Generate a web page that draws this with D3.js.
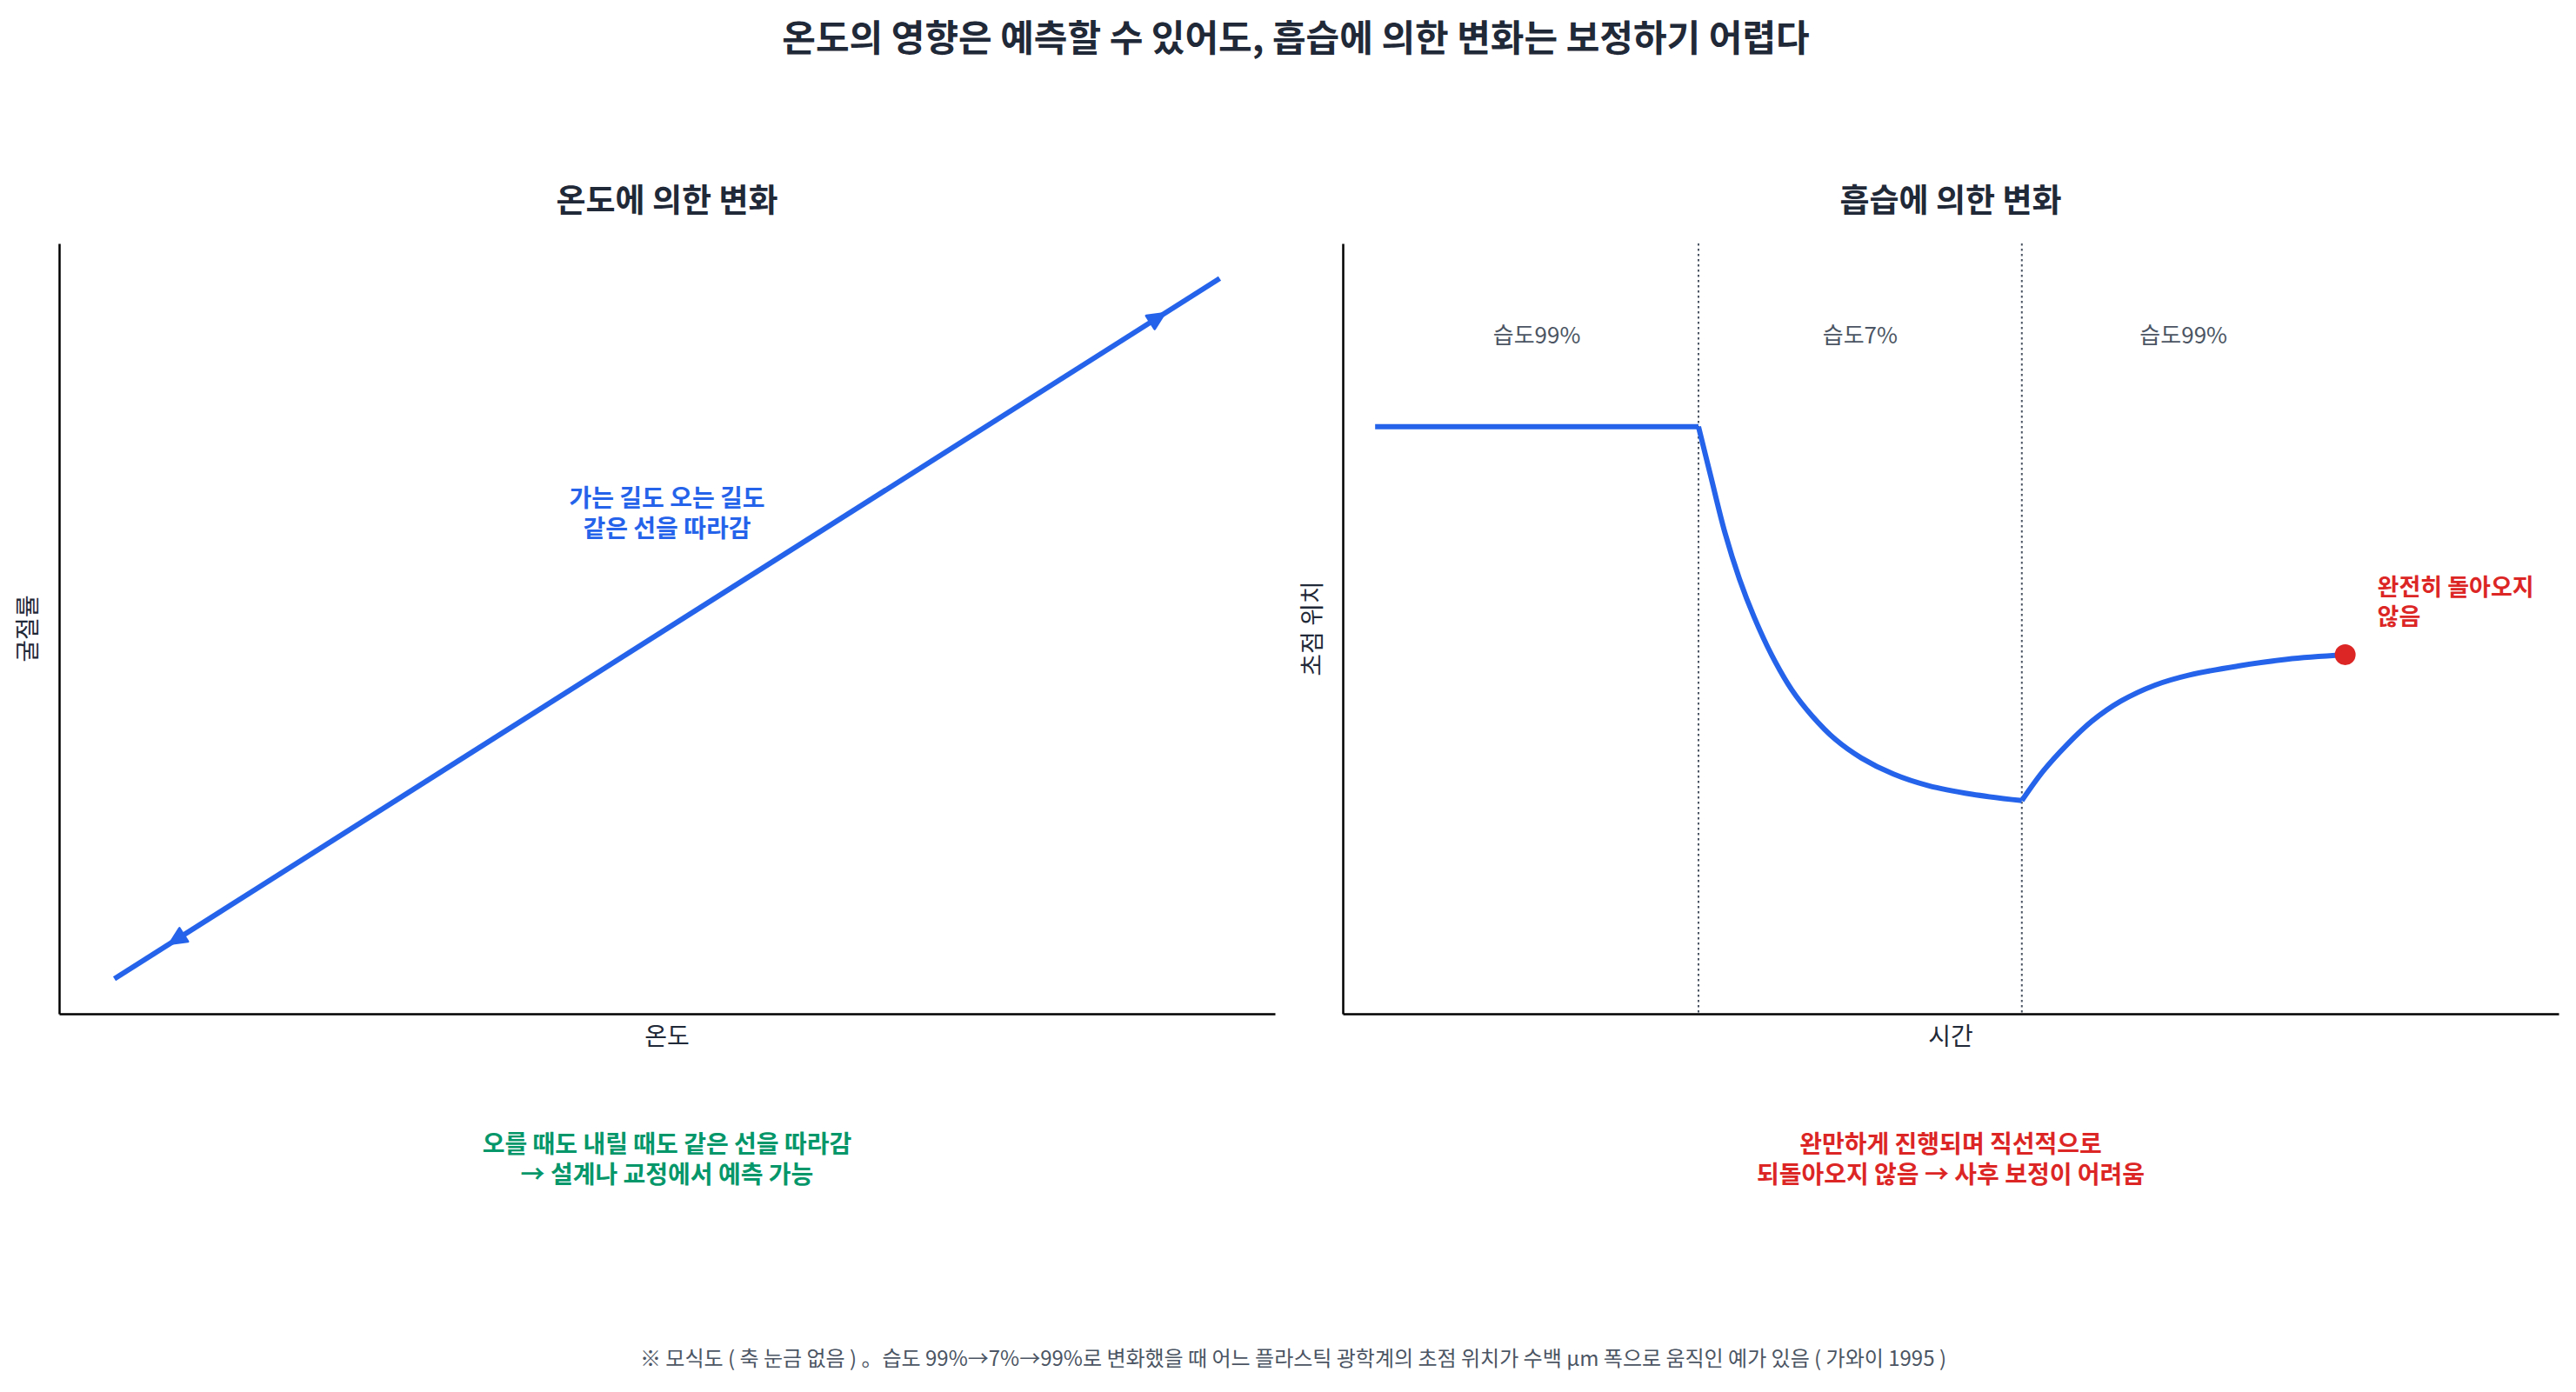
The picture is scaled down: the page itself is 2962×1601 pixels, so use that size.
<!DOCTYPE html>
<html>
<head>
<meta charset="utf-8">
<script src="https://cdn.jsdelivr.net/npm/d3@7"></script>
<style>
body { margin: 0; background: #fff; }
text { font-family: "Noto Sans CJK KR", "Noto Sans", sans-serif; }
</style>
</head>
<body>
<div id="chart"></div>
<script>
// left panel: temperature -> refractive index, same line both ways
var tempX = [0, 1];
var tempY = [0, 1];
var arrowAt = [0.95, 0.05];   // position of arrowheads along the line
var arrowDir = [1, -1];       // 1 = heating, -1 = cooling

// right panel: focus position under humidity 99% -> 7% -> 99%
var timeT  = [0, 1, 1.037, 1.082, 1.127, 1.172, 1.226, 1.288, 1.351, 1.423, 1.504, 1.603, 1.711, 1.846, 2,
              2.067, 2.14, 2.216, 2.306, 2.412, 2.518, 2.669, 2.82, 3];
var focusY = [1, 1, 0.871, 0.716, 0.592, 0.491, 0.39, 0.297, 0.227, 0.164, 0.114, 0.071, 0.04, 0.017, 0,
              0.08, 0.15, 0.212, 0.266, 0.309, 0.336, 0.36, 0.378, 0.39];
var phaseEdges = [1, 2];
var phaseNames = ["습도99%", "습도7%", "습도99%"];
var phaseMid = [0.5, 1.5, 2.5];

var W = 2962, H = 1601;
var pw = 1398, ph = 886;
var lpos = {left: 68, top: 280},
    rpos = {left: 1544, top: 280};

var svg = d3.select("#chart")
  .append("svg")
  .attr("width", W)
  .attr("height", H);

svg.append("text")
  .attr("x", 1490).attr("y", 48)
  .attr("text-anchor", "middle").attr("dominant-baseline", "middle")
  .style("font-size", "42px").style("font-weight", "bold").style("fill", "#1f2937")
  .text("온도의 영향은 예측할 수 있어도, 흡습에 의한 변화는 보정하기 어렵다");

// ---------- left panel ----------
var g1 = svg.append("g")
  .attr("transform", "translate(" + lpos.left + "," + lpos.top + ")");

var lx = d3.scaleLinear().domain([-0.05, 1.05]).range([0, pw]);
var ly = d3.scaleLinear().domain([-0.05, 1.05]).range([ph, 0]);

g1.append("g")
  .attr("transform", "translate(0," + ph + ")")
  .call(d3.axisBottom(lx).tickValues([]).tickSizeOuter(0));
g1.append("g")
  .call(d3.axisLeft(ly).tickValues([]).tickSizeOuter(0));

var tempData = tempX.map(function(d, i) { return {x: d, y: tempY[i]}; });

g1.append("path")
  .datum(tempData)
  .attr("fill", "none")
  .attr("stroke", "#2563eb")
  .attr("stroke-width", 6)
  .attr("d", d3.line().x(function(d) { return lx(d.x); }).y(function(d) { return ly(d.y); }));

var ang = Math.atan2(ly(1) - ly(0), lx(1) - lx(0)) * 180 / Math.PI;
g1.selectAll(".arrowhead")
  .data(arrowAt)
  .enter().append("path")
  .attr("class", "arrowhead")
  .attr("d", "M0,0 L-19,-9 L-19,9 Z")
  .attr("fill", "#2563eb")
  .attr("stroke", "#2563eb")
  .attr("stroke-width", 3)
  .attr("stroke-linejoin", "round")
  .attr("transform", function(d, i) {
    var a = arrowDir[i] > 0 ? ang : ang + 180;
    return "translate(" + lx(d) + "," + ly(d) + ")rotate(" + a + ")";
  });

g1.append("text")
  .attr("x", pw / 2).attr("y", 234 - lpos.top)
  .attr("text-anchor", "middle").attr("dominant-baseline", "middle")
  .style("font-size", "37px").style("font-weight", "bold").style("fill", "#1f2937")
  .text("온도에 의한 변화");

var note1 = g1.append("text")
  .attr("text-anchor", "middle")
  .style("font-size", "28px").style("font-weight", "bold").style("fill", "#2563eb");
note1.append("tspan").attr("x", 699).attr("y", 583 - lpos.top).text("가는 길도 오는 길도");
note1.append("tspan").attr("x", 699).attr("y", 618 - lpos.top).text("같은 선을 따라감");

g1.append("text")
  .attr("x", pw / 2).attr("y", 1202 - lpos.top)
  .attr("text-anchor", "middle")
  .style("font-size", "28px").style("fill", "#1f2937")
  .text("온도");

g1.append("text")
  .attr("transform", "translate(" + (34 - lpos.left) + "," + ph / 2 + ")rotate(-90)")
  .attr("text-anchor", "middle").attr("dominant-baseline", "middle")
  .style("font-size", "28px").style("fill", "#1f2937")
  .text("굴절률");

var green = g1.append("text")
  .attr("text-anchor", "middle")
  .style("font-size", "28px").style("font-weight", "bold").style("fill", "#059669");
green.append("tspan").attr("x", 699).attr("y", 1326 - lpos.top).text("오를 때도 내릴 때도 같은 선을 따라감");
green.append("tspan").attr("x", 699).attr("y", 1361 - lpos.top).text("→ 설계나 교정에서 예측 가능");

// ---------- right panel ----------
var g2 = svg.append("g")
  .attr("transform", "translate(" + rpos.left + "," + rpos.top + ")");

var rx = d3.scaleLinear().domain([-0.1, 3.66]).range([0, pw]);
var ry = d3.scaleLinear().domain([-0.57, 1.49]).range([ph, 0]);

g2.append("g")
  .attr("transform", "translate(0," + ph + ")")
  .call(d3.axisBottom(rx).tickValues([]).tickSizeOuter(0));
g2.append("g")
  .call(d3.axisLeft(ry).tickValues([]).tickSizeOuter(0));

g2.selectAll(".phase")
  .data(phaseEdges)
  .enter().append("line")
  .attr("class", "phase")
  .attr("x1", function(d) { return rx(d); })
  .attr("x2", function(d) { return rx(d); })
  .attr("y1", 0).attr("y2", ph)
  .attr("stroke", "#4b5563")
  .attr("stroke-width", 2)
  .attr("stroke-dasharray", "2.5,3.5");

g2.selectAll(".phaseLabel")
  .data(phaseNames)
  .enter().append("text")
  .attr("class", "phaseLabel")
  .attr("x", function(d, i) { return rx(phaseMid[i]); })
  .attr("y", ry(1.24))
  .attr("text-anchor", "middle").attr("dominant-baseline", "middle")
  .style("font-size", "26px").style("fill", "#4b5563")
  .text(function(d) { return d; });

var humid = timeT.map(function(d, i) { return {t: d, y: focusY[i]}; });
// split at the humidity changes so the corners stay sharp
var segs = [[0, 1], [1, 2], [2, 3]].map(function(r) {
  return humid.filter(function(d) { return d.t >= r[0] && d.t <= r[1]; });
});

var hline = d3.line()
  .x(function(d) { return rx(d.t); })
  .y(function(d) { return ry(d.y); })
  .curve(d3.curveCatmullRom.alpha(0.5));

g2.selectAll(".seg")
  .data(segs)
  .enter().append("path")
  .attr("class", "seg")
  .attr("fill", "none")
  .attr("stroke", "#2563eb")
  .attr("stroke-width", 6)
  .attr("stroke-linejoin", "round")
  .attr("d", hline);

var last = humid[humid.length - 1];
g2.append("circle")
  .attr("cx", rx(last.t)).attr("cy", ry(last.y))
  .attr("r", 12)
  .attr("fill", "#dc2626");

var red1 = g2.append("text")
  .style("font-size", "27px").style("font-weight", "bold").style("fill", "#dc2626");
red1.append("tspan").attr("x", rx(last.t) + 37).attr("y", 685 - rpos.top).text("완전히 돌아오지");
red1.append("tspan").attr("x", rx(last.t) + 37).attr("y", 719 - rpos.top).text("않음");

g2.append("text")
  .attr("x", pw / 2).attr("y", 234 - rpos.top)
  .attr("text-anchor", "middle").attr("dominant-baseline", "middle")
  .style("font-size", "37px").style("font-weight", "bold").style("fill", "#1f2937")
  .text("흡습에 의한 변화");

g2.append("text")
  .attr("x", pw / 2).attr("y", 1202 - rpos.top)
  .attr("text-anchor", "middle")
  .style("font-size", "28px").style("fill", "#1f2937")
  .text("시간");

g2.append("text")
  .attr("transform", "translate(" + (1511 - rpos.left) + "," + ph / 2 + ")rotate(-90)")
  .attr("text-anchor", "middle").attr("dominant-baseline", "middle")
  .style("font-size", "28px").style("fill", "#1f2937")
  .text("초점 위치");

var red2 = g2.append("text")
  .attr("text-anchor", "middle")
  .style("font-size", "28px").style("font-weight", "bold").style("fill", "#dc2626");
red2.append("tspan").attr("x", pw / 2).attr("y", 1326 - rpos.top).text("완만하게 진행되며 직선적으로");
red2.append("tspan").attr("x", pw / 2).attr("y", 1361 - rpos.top).text("되돌아오지 않음 → 사후 보정이 어려움");

// axis spines
svg.selectAll(".domain")
  .attr("stroke", "#000")
  .attr("stroke-width", 2.5);

svg.append("text")
  .attr("x", 1487).attr("y", 1571)
  .attr("text-anchor", "middle")
  .style("font-size", "24px").style("fill", "#4b5563")
  .text("※ 모식도 ( 축 눈금 없음 ) 。습도 99%→7%→99%로 변화했을 때 어느 플라스틱 광학계의 초점 위치가 수백 μm 폭으로 움직인 예가 있음 ( 가와이 1995 )");
</script>
</body>
</html>
